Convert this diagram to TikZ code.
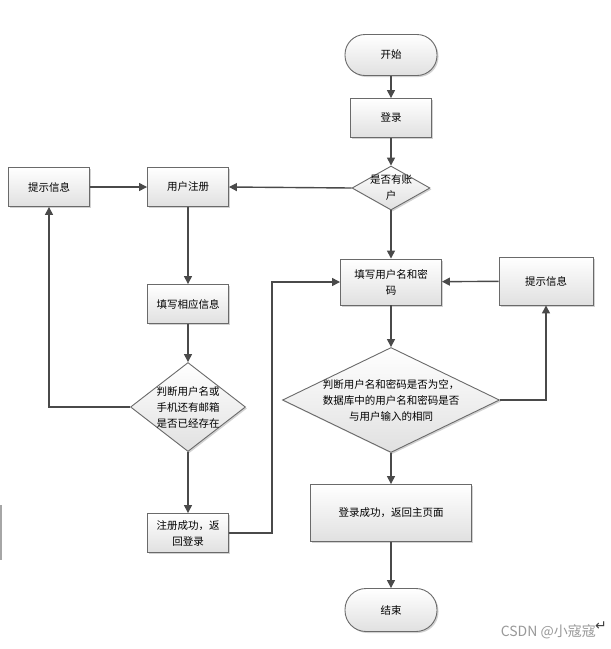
\documentclass[tikz,border=0pt]{standalone}
\usepackage{fontspec}
\setmainfont{Noto Sans CJK SC}
\newfontfamily\symfont{DejaVu Sans}
\usetikzlibrary{shapes.geometric,shadows,arrows.meta}
\definecolor{edgecol}{HTML}{4A4A4A}
\definecolor{bordercol}{HTML}{6A6A6A}
\tikzset{
  base/.style={draw=bordercol, line width=0.9pt, top color=white, bottom color=black!12,
    drop shadow={shadow xshift=1.5pt, shadow yshift=-1.5pt, opacity=0.35},
    font=\fontsize{10.5}{16}\selectfont, align=center, inner sep=0pt},
  procbox/.style={base, rectangle, minimum width=81pt, minimum height=39pt},
  termbox/.style={base, rectangle, rounded corners=20pt, minimum width=92pt, minimum height=41pt},
  decbox/.style={base, diamond},
  conn/.style={draw=edgecol, line width=1.4pt, -{Triangle[length=8pt,width=8pt]}},
  dlabel/.style={font=\fontsize{10.5}{16}\selectfont, align=center, inner sep=0pt}
}
\begin{document}
\begin{tikzpicture}[x=1pt,y=-1pt]
\useasboundingbox (0,0) rectangle (611,649);
\fill[white] (0,0) rectangle (611,649);

\node[termbox] (start) at (391,55) {开始};
\node[procbox] (login) at (391,118) {登录};
\node[decbox, minimum width=78pt, minimum height=44pt,
      label={[dlabel]center:是否有账\\户}] (hasacct) at (391,188) {};
\node[procbox] (reg) at (188,187) {用户注册};
\node[procbox] (tipL) at (49,187) {提示信息};
\node[procbox] (fillinfo) at (188,304) {填写相应信息};
\node[decbox, minimum width=115pt, minimum height=89pt,
      label={[dlabel]center:判断用户名或\\手机还有邮箱\\是否已经存在}] (chk1) at (188,407) {};
\node[procbox] (regok) at (188,533) {注册成功，返\\回登录};
\node[procbox, minimum width=101pt, minimum height=46pt] (fill) at (391,282) {填写用户名和密\\码};
\node[procbox, minimum width=94pt, minimum height=48pt] (tipR) at (546,281) {提示信息};
\node[decbox, minimum width=217pt, minimum height=105pt,
      label={[dlabel]center:判断用户名和密码是否为空，\\数据库中的用户名和密码是否\\与用户输入的相同}] (chk2) at (391,400) {};
\node[procbox, minimum width=161pt, minimum height=57pt] (ok) at (391,513) {登录成功，返回主页面};
\node[termbox, minimum height=43pt, rounded corners=21pt] (end) at (391,610) {结束};

\coordinate (turn) at (272,282);

\draw[conn] (start) -- (login);
\draw[conn] (login) -- (hasacct);
\draw[conn] (hasacct) -- (fill);
\draw[conn] (hasacct.west) -- (reg.east);
\draw[conn] (tipL) -- (reg);
\draw[conn] (reg) -- (fillinfo);
\draw[conn] (fillinfo) -- (chk1);
\draw[conn] (chk1) -- (regok);
\draw[conn] (chk1.west) -| (tipL.south);
\draw[conn] (regok.east) -| (turn) -- (fill.west);
\draw[conn] (fill) -- (chk2);
\draw[conn] (chk2.east) -| (tipR.south);
\draw[conn] (tipR) -- (fill);
\draw[conn] (chk2) -- (ok);
\draw[conn] (ok) -- (end);

\node[text=black!40, font=\fontsize{14}{16}\selectfont, anchor=east, inner sep=0pt] (wm) at (596,632) {CSDN @小寇寇};
\node[text=black!75, font=\symfont\fontsize{14}{16}\selectfont, anchor=west, inner sep=0pt] (ret) at (595,626) {↵};
\fill[black!35] (0,505) rectangle (2,560);
\end{tikzpicture}
\end{document}
